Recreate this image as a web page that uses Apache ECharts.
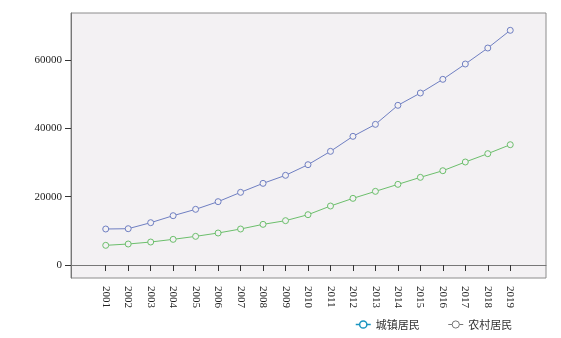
<!DOCTYPE html>
<html><head><meta charset="utf-8">
<script src="https://cdn.jsdelivr.net/npm/echarts@6/dist/echarts.min.js"></script>
<style>html,body{margin:0;padding:0;background:#fff}#c{width:561px;height:338px}</style>
</head><body><div id="c"></div>
<script>
var years = [2001,2002,2003,2004,2005,2006,2007,2008,2009,2010,2011,2012,2013,2014,2015,2016,2017,2018,2019];
var urban = [10540,10630,12390,14440,16300,18540,21270,23900,26250,29360,33270,37660,41170,46740,50340,54350,58830,63510,68690];
var rural = [5760,6150,6730,7510,8390,9370,10540,11900,12980,14730,17270,19510,21560,23610,25660,27600,30150,32590,35210];
var yTicks = [0,20000,40000,60000];
var seriesNames = ['城镇居民','农村居民'];

function pairs(vals){ return years.map(function(y,i){ return [y, vals[i]]; }); }

var chart = echarts.init(document.getElementById('c'), null, {renderer:'canvas'});
var labelFont = {fontFamily:'Liberation Serif', fontSize:11, color:'#222'};
chart.setOption({
  animation:false,
  backgroundColor:'#fff',
  grid:{left:71, top:13, right:15, bottom:60, show:true, backgroundColor:'#f3f1f3', borderColor:'#8c8c8c', borderWidth:1},
  xAxis:{type:'value', min:1999.455, max:2020.59,
    axisLine:{show:true, lineStyle:{color:'#777'}},
    axisTick:{show:true, length:6, lineStyle:{color:'#333'}, customValues:years},
    axisLabel:Object.assign({rotate:-90, margin:8, customValues:years, formatter:function(v){return String(v);}}, labelFont),
    splitLine:{show:false}},
  yAxis:{type:'value', min:-3800, max:73760,
    axisLine:{show:true, lineStyle:{color:'#777'}},
    axisTick:{show:true, length:6, lineStyle:{color:'#333'}, customValues:yTicks},
    axisLabel:Object.assign({margin:9, customValues:yTicks, formatter:function(v){return String(v);}}, labelFont),
    splitLine:{show:false}},
  legend:{bottom:3, left:350, itemWidth:15, itemHeight:9, itemGap:28,
    textStyle:{fontFamily:'Noto Sans CJK SC', fontSize:11, color:'#333'},
    data:[{name:seriesNames[0], itemStyle:{color:'#fff', borderColor:'#1b95c0', borderWidth:1.5}, lineStyle:{color:'#1b95c0', width:1.5, type:'solid'}},
          {name:seriesNames[1], itemStyle:{color:'#fff', borderColor:'#777', borderWidth:1}, lineStyle:{color:'#777', width:1, type:'solid'}}]},
  series:[
    {name:seriesNames[0], type:'line', data:pairs(urban), symbol:'circle', symbolSize:6,
     lineStyle:{color:'#6f7fc2', width:1}, itemStyle:{color:'#f3f1f3', borderColor:'#6f7fc2', borderWidth:1}},
    {name:seriesNames[1], type:'line', data:pairs(rural), symbol:'circle', symbolSize:6,
     lineStyle:{color:'#6cbf6c', width:1}, itemStyle:{color:'#f3f1f3', borderColor:'#6cbf6c', borderWidth:1}}
  ]
});
</script></body></html>
